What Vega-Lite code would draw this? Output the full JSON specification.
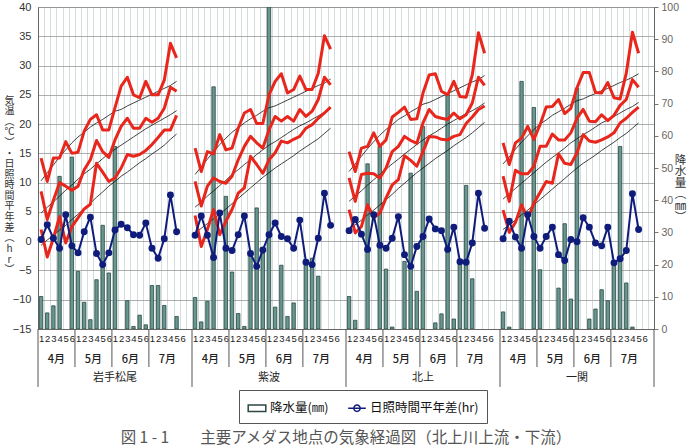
{
"$schema": "https://vega.github.io/schema/vega-lite/v6.json",
"width": 616, "height": 322,
"autosize": {"type": "none"},
"padding": {"left": 38, "top": 7, "right": 36, "bottom": 118},
"background": "white",
"config": {"font": "Noto Sans CJK JP", "view": {"stroke": "#777", "strokeWidth": 1}, "axis": {"labelOverlap": false}},
"title": {"text": "図 1 - 1　　主要アメダス地点の気象経過図（北上川上流・下流）", "orient": "bottom", "anchor": "middle", "frame": "group", "font": "Noto Sans CJK JP", "fontSize": 15.5, "fontWeight": "normal", "color": "#555", "offset": 7},
"datasets": {
"d": [
{"st":"岩手松尾","i":0,"tx":14.2,"tm":8.5,"tn":2,"nx":10.3,"nm":4.8,"nn":-0.7,"s":0.3,"p":10.1},
{"st":"岩手松尾","i":1,"tx":10.2,"tm":3.7,"tn":-2.7,"nx":11.7,"nm":5.8,"nn":0.2,"s":2.8,"p":5.0},
{"st":"岩手松尾","i":2,"tx":14.2,"tm":7,"tn":0.5,"nx":13.0,"nm":6.7,"nn":1.0,"s":0.5,"p":7.2},
{"st":"岩手松尾","i":3,"tx":14.2,"tm":10,"tn":4.2,"nx":14.4,"nm":7.7,"nn":1.9,"s":-1.2,"p":47.4},
{"st":"岩手松尾","i":4,"tx":17,"tm":9.4,"tn":-0.3,"nx":15.6,"nm":8.7,"nn":2.7,"s":4.5},
{"st":"岩手松尾","i":5,"tx":15,"tm":8.7,"tn":2.5,"nx":16.8,"nm":9.6,"nn":3.7,"s":-0.8,"p":53.4},
{"st":"岩手松尾","i":6,"tx":15.2,"tm":9.4,"tn":4,"nx":17.8,"nm":10.6,"nn":4.6,"s":-2.0,"p":17.9},
{"st":"岩手松尾","i":7,"tx":18.8,"tm":12.2,"tn":5.5,"nx":18.6,"nm":11.5,"nn":5.6,"s":1.6,"p":8.3},
{"st":"岩手松尾","i":8,"tx":20.8,"tm":13.9,"tn":6.3,"nx":19.5,"nm":12.3,"nn":6.5,"s":4.1,"p":2.9},
{"st":"岩手松尾","i":9,"tx":21.6,"tm":17.2,"tn":13.3,"nx":20.2,"nm":13.2,"nn":7.5,"s":-2.1,"p":15.3},
{"st":"岩手松尾","i":10,"tx":19,"tm":15.3,"tn":11.8,"nx":20.8,"nm":14.1,"nn":8.4,"s":-4.0,"p":32.2},
{"st":"岩手松尾","i":11,"tx":19,"tm":14.3,"tn":10.2,"nx":21.5,"nm":15.0,"nn":9.4,"s":-2.0,"p":17.4},
{"st":"岩手松尾","i":12,"tx":22.8,"tm":17.3,"tn":10.8,"nx":22.2,"nm":15.7,"nn":10.2,"s":1.9,"p":56.7},
{"st":"岩手松尾","i":13,"tx":26.5,"tm":19.6,"tn":12.5,"nx":22.5,"nm":16.4,"nn":11.1,"s":2.9},
{"st":"岩手松尾","i":14,"tx":28,"tm":21,"tn":14.8,"nx":23.1,"nm":17.1,"nn":11.8,"s":2.3,"p":8.8},
{"st":"岩手松尾","i":15,"tx":25,"tm":19.3,"tn":14.5,"nx":23.6,"nm":17.8,"nn":12.6,"s":1.1,"p":0.8},
{"st":"岩手松尾","i":16,"tx":24.5,"tm":19.3,"tn":14.8,"nx":24.1,"nm":18.5,"nn":13.4,"s":1.0,"p":4.3},
{"st":"岩手松尾","i":17,"tx":27.3,"tm":21,"tn":15.5,"nx":24.6,"nm":19.2,"nn":14.1,"s":3.1,"p":1.3},
{"st":"岩手松尾","i":18,"tx":25,"tm":20.3,"tn":16.5,"nx":25.1,"nm":19.8,"nn":14.9,"s":-1.2,"p":13.5},
{"st":"岩手松尾","i":19,"tx":25,"tm":21,"tn":17.7,"nx":25.6,"nm":20.4,"nn":15.6,"s":-2.9,"p":13.5},
{"st":"岩手松尾","i":20,"tx":27.5,"tm":22.7,"tn":19,"nx":26.1,"nm":21.0,"nn":16.4,"s":0.4,"p":7.3},
{"st":"岩手松尾","i":21,"tx":33.8,"tm":26.3,"tn":19,"nx":26.6,"nm":21.6,"nn":17.4,"s":7.9},
{"st":"岩手松尾","i":22,"tx":31.3,"tm":25.6,"tn":21.5,"nx":27.3,"nm":22.3,"nn":18.3,"s":1.6,"p":3.9},
{"st":"紫波","i":25,"tx":15.9,"tm":10.2,"tn":4.4,"nx":11.4,"nm":5.8,"nn":1.4,"s":1,"p":9.8},
{"st":"紫波","i":26,"tx":11.9,"tm":6,"tn":-0.9,"nx":12.7,"nm":6.7,"nn":2.2,"s":4.3,"p":2.2},
{"st":"紫波","i":27,"tx":15.3,"tm":9.4,"tn":2,"nx":14.0,"nm":7.7,"nn":3.0,"s":1,"p":8.6},
{"st":"紫波","i":28,"tx":14.9,"tm":10.8,"tn":5.4,"nx":15.3,"nm":8.6,"nn":3.8,"s":-2.8,"p":75.2},
{"st":"紫波","i":29,"tx":18.2,"tm":10.2,"tn":1.1,"nx":16.5,"nm":9.5,"nn":4.6,"s":4.8},
{"st":"紫波","i":30,"tx":15.6,"tm":9.9,"tn":3.4,"nx":17.6,"nm":10.4,"nn":5.5,"s":-1.2,"p":41.2},
{"st":"紫波","i":31,"tx":15.9,"tm":11.1,"tn":5.4,"nx":18.6,"nm":11.4,"nn":6.4,"s":-1.6,"p":17.7},
{"st":"紫波","i":32,"tx":19.3,"tm":13.9,"tn":8.2,"nx":19.4,"nm":12.2,"nn":7.3,"s":1.1,"p":4.8},
{"st":"紫波","i":33,"tx":21.9,"tm":16.2,"tn":9.1,"nx":20.2,"nm":13.1,"nn":8.2,"s":4.3,"p":0.8},
{"st":"紫波","i":34,"tx":22.5,"tm":17.9,"tn":14.5,"nx":20.9,"nm":13.9,"nn":9.1,"s":-2.1,"p":23.6},
{"st":"紫波","i":35,"tx":20.1,"tm":16.8,"tn":13.1,"nx":21.5,"nm":14.8,"nn":10.0,"s":-4.3,"p":37.6},
{"st":"紫波","i":36,"tx":20.1,"tm":15.9,"tn":11.6,"nx":22.2,"nm":15.6,"nn":10.9,"s":-1.5,"p":23.6},
{"st":"紫波","i":37,"tx":25,"tm":19,"tn":13.9,"nx":22.8,"nm":16.4,"nn":11.7,"s":1.1,"p":100},
{"st":"紫波","i":38,"tx":27.3,"tm":21.3,"tn":15.1,"nx":23.1,"nm":17.0,"nn":12.5,"s":3.1,"p":6.8},
{"st":"紫波","i":39,"tx":28.6,"tm":20.5,"tn":17.1,"nx":23.6,"nm":17.7,"nn":13.2,"s":0.8,"p":19.8},
{"st":"紫波","i":40,"tx":25.3,"tm":21.3,"tn":16.8,"nx":24.1,"nm":18.4,"nn":13.9,"s":0.4,"p":3.9},
{"st":"紫波","i":41,"tx":25.9,"tm":20.5,"tn":17.4,"nx":24.6,"nm":19.1,"nn":14.6,"s":-1.2,"p":8.1},
{"st":"紫波","i":42,"tx":28.2,"tm":22.5,"tn":17.9,"nx":25.1,"nm":19.7,"nn":15.4,"s":3.6},
{"st":"紫波","i":43,"tx":25.9,"tm":21.3,"tn":19.3,"nx":25.6,"nm":20.2,"nn":16.1,"s":-3.6,"p":21.5},
{"st":"紫波","i":44,"tx":25.9,"tm":22.2,"tn":19.9,"nx":26.1,"nm":20.8,"nn":16.8,"s":-4,"p":22},
{"st":"紫波","i":45,"tx":28.7,"tm":24.2,"tn":21,"nx":26.6,"nm":21.4,"nn":17.5,"s":0.5,"p":16.4},
{"st":"紫波","i":46,"tx":35.1,"tm":28,"tn":21.9,"nx":27.0,"nm":22.0,"nn":18.4,"s":8.2},
{"st":"紫波","i":47,"tx":32.8,"tm":26.7,"tn":22.9,"nx":27.7,"nm":22.7,"nn":19.3,"s":2.7},
{"st":"北上","i":50,"tx":15.3,"tm":10.8,"tn":5.4,"nx":11.9,"nm":6.8,"nn":2.0,"s":1.8,"p":10.1},
{"st":"北上","i":51,"tx":11.9,"tm":6.8,"tn":1.4,"nx":13.2,"nm":7.7,"nn":2.8,"s":3.7,"p":2.7},
{"st":"北上","i":52,"tx":15.9,"tm":11.4,"tn":2.5,"nx":14.5,"nm":8.6,"nn":3.6,"s":1.2},
{"st":"北上","i":53,"tx":16.2,"tm":11.6,"tn":6.2,"nx":15.8,"nm":9.6,"nn":4.5,"s":-1.4,"p":51.3},
{"st":"北上","i":54,"tx":18.5,"tm":11.5,"tn":4,"nx":17.0,"nm":10.5,"nn":5.3,"s":4.5},
{"st":"北上","i":55,"tx":16.2,"tm":10.8,"tn":4.8,"nx":18.1,"nm":11.4,"nn":6.2,"s":-0.7,"p":56.7},
{"st":"北上","i":56,"tx":17.3,"tm":12.5,"tn":7.4,"nx":19.1,"nm":12.3,"nn":7.1,"s":-1.2,"p":18.6},
{"st":"北上","i":57,"tx":21.2,"tm":15.3,"tn":9.6,"nx":19.9,"nm":13.2,"nn":8.0,"s":0.5,"p":0.6},
{"st":"北上","i":58,"tx":22,"tm":16.2,"tn":10.5,"nx":20.8,"nm":14.0,"nn":9.0,"s":4.2},
{"st":"北上","i":59,"tx":22.9,"tm":17.9,"tn":14.6,"nx":21.4,"nm":14.9,"nn":9.9,"s":-2.3,"p":21},
{"st":"北上","i":60,"tx":20.8,"tm":17.2,"tn":13.8,"nx":22.1,"nm":15.7,"nn":10.8,"s":-4.3,"p":48.4},
{"st":"北上","i":61,"tx":20.9,"tm":16.7,"tn":12.8,"nx":22.7,"nm":16.5,"nn":11.7,"s":-0.9,"p":11.7},
{"st":"北上","i":62,"tx":25.3,"tm":20.2,"tn":15.3,"nx":23.4,"nm":17.3,"nn":12.5,"s":0.8,"p":62.9},
{"st":"北上","i":63,"tx":28.4,"tm":22.5,"tn":17.9,"nx":23.7,"nm":18.0,"nn":13.3,"s":3.8},
{"st":"北上","i":64,"tx":28.6,"tm":21.3,"tn":17.8,"nx":24.2,"nm":18.6,"nn":14.1,"s":2.1,"p":1.9},
{"st":"北上","i":65,"tx":25.6,"tm":21,"tn":17.4,"nx":24.7,"nm":19.3,"nn":14.8,"s":1.8,"p":4.7},
{"st":"北上","i":66,"tx":25,"tm":20.8,"tn":17.3,"nx":25.2,"nm":20.0,"nn":15.5,"s":-1.4,"p":72.8},
{"st":"北上","i":67,"tx":27.3,"tm":21.9,"tn":17.9,"nx":25.7,"nm":20.6,"nn":16.3,"s":2.4,"p":3.1},
{"st":"北上","i":68,"tx":24.7,"tm":20.9,"tn":18.2,"nx":26.2,"nm":21.2,"nn":17.0,"s":-3.5,"p":21},
{"st":"北上","i":69,"tx":24.6,"tm":21.6,"tn":20.1,"nx":26.7,"nm":21.8,"nn":17.7,"s":-3.6,"p":44.6},
{"st":"北上","i":70,"tx":28.4,"tm":23.6,"tn":21.2,"nx":27.2,"nm":22.3,"nn":18.5,"s":-0.3,"p":15.6},
{"st":"北上","i":71,"tx":35.6,"tm":28,"tn":22.5,"nx":27.6,"nm":22.9,"nn":19.4,"s":8.2},
{"st":"北上","i":72,"tx":32.1,"tm":26.6,"tn":23.1,"nx":28.3,"nm":23.6,"nn":20.3,"s":2.2},
{"st":"一関","i":75,"tx":16.8,"tm":11.1,"tn":5.3,"nx":13.2,"nm":7.2,"nn":2.0,"s":0.4,"p":5.3},
{"st":"一関","i":76,"tx":13.1,"tm":6.8,"tn":1.5,"nx":14.4,"nm":8.1,"nn":2.8,"s":3.4,"p":0.6},
{"st":"一関","i":77,"tx":16.8,"tm":12.1,"tn":3.2,"nx":15.7,"nm":9.0,"nn":3.6,"s":0.7},
{"st":"一関","i":78,"tx":17.6,"tm":11.5,"tn":6.2,"nx":16.9,"nm":9.9,"nn":4.5,"s":-1.2,"p":76.9},
{"st":"一関","i":79,"tx":19.6,"tm":11.5,"tn":3.8,"nx":18.0,"nm":10.8,"nn":5.3,"s":4.5},
{"st":"一関","i":80,"tx":17.4,"tm":12.8,"tn":6.5,"nx":19.1,"nm":11.7,"nn":6.2,"s":0.8,"p":68.8},
{"st":"一関","i":81,"tx":19.9,"tm":16.2,"tn":8.3,"nx":20.0,"nm":12.6,"nn":7.1,"s":-1.2,"p":18.4},
{"st":"一関","i":82,"tx":22.9,"tm":16.2,"tn":10.2,"nx":20.7,"nm":13.5,"nn":8.0,"s":0.8},
{"st":"一関","i":83,"tx":23,"tm":18.3,"tn":9.9,"nx":21.5,"nm":14.3,"nn":8.9,"s":2.4},
{"st":"一関","i":84,"tx":24.2,"tm":17.3,"tn":14.9,"nx":22.1,"nm":15.1,"nn":9.8,"s":-2.3,"p":12.7},
{"st":"一関","i":85,"tx":21.8,"tm":17.3,"tn":13.3,"nx":22.7,"nm":15.9,"nn":10.7,"s":-3.3,"p":32.7},
{"st":"一関","i":86,"tx":22.7,"tm":18.5,"tn":13.1,"nx":23.4,"nm":16.8,"nn":11.6,"s":0.3,"p":9.3},
{"st":"一関","i":87,"tx":26.2,"tm":21,"tn":15.1,"nx":24.0,"nm":17.5,"nn":12.5,"s":-0.1,"p":74.8},
{"st":"一関","i":88,"tx":28.8,"tm":22.5,"tn":18.2,"nx":24.3,"nm":18.2,"nn":13.3,"s":4},
{"st":"一関","i":89,"tx":28.8,"tm":20.5,"tn":17.1,"nx":24.8,"nm":18.8,"nn":14.0,"s":2.4,"p":3.1},
{"st":"一関","i":90,"tx":25.4,"tm":20.4,"tn":16.9,"nx":25.2,"nm":19.5,"nn":14.7,"s":-0.3,"p":6.2},
{"st":"一関","i":91,"tx":25.3,"tm":21.6,"tn":17.3,"nx":25.7,"nm":20.2,"nn":15.5,"s":-0.8,"p":12.2},
{"st":"一関","i":92,"tx":27.1,"tm":20.6,"tn":17.8,"nx":26.1,"nm":20.7,"nn":16.2,"s":2.4,"p":8.8},
{"st":"一関","i":93,"tx":24.5,"tm":21.5,"tn":18.5,"nx":26.6,"nm":21.3,"nn":16.9,"s":-3.7,"p":20},
{"st":"一関","i":94,"tx":24.3,"tm":23.2,"tn":20.2,"nx":27.1,"nm":21.9,"nn":17.7,"s":-3,"p":56.7},
{"st":"一関","i":95,"tx":28.7,"tm":24.2,"tn":21,"nx":27.5,"nm":22.5,"nn":18.4,"s":-1.6,"p":14.3},
{"st":"一関","i":96,"tx":35.7,"tm":27.6,"tn":22,"nx":28.0,"nm":23.0,"nn":19.3,"s":8.1,"p":0.6},
{"st":"一関","i":97,"tx":32.1,"tm":26.3,"tn":22.9,"nx":28.6,"nm":23.7,"nn":20.2,"s":2}
],
"mon": [
{"i":3,"t":"4月"},{"i":9,"t":"5月"},{"i":15,"t":"6月"},{"i":21,"t":"7月"},
{"i":28,"t":"4月"},{"i":34,"t":"5月"},{"i":40,"t":"6月"},{"i":46,"t":"7月"},
{"i":53,"t":"4月"},{"i":59,"t":"5月"},{"i":65,"t":"6月"},{"i":71,"t":"7月"},
{"i":78,"t":"4月"},{"i":84,"t":"5月"},{"i":90,"t":"6月"},{"i":96,"t":"7月"}
],
"sta": [{"i":12,"t":"岩手松尾"},{"i":37,"t":"紫波"},{"i":62,"t":"北上"},{"i":87,"t":"一関"}],
"msep": [{"i":6},{"i":12},{"i":18},{"i":31},{"i":37},{"i":43},{"i":56},{"i":62},{"i":68},{"i":81},{"i":87},{"i":93}],
"ssep": [{"i":0},{"i":25},{"i":50},{"i":75}],
"send": [{"i":99}],
"lg": [{"lg":"降水量(㎜)"},{"lg":"日照時間平年差(hr)"}]
},
"layer": [
{
"data": {"name": "d"},
"mark": {"type": "bar", "width": {"band": 0.55}, "fill": "#67978f", "stroke": "#2b4844", "strokeWidth": 0.8, "clip": true},
"encoding": {
"x": {"field": "i", "type": "ordinal",
"scale": {"domain": [0,1,2,3,4,5,6,7,8,9,10,11,12,13,14,15,16,17,18,19,20,21,22,23,24,25,26,27,28,29,30,31,32,33,34,35,36,37,38,39,40,41,42,43,44,45,46,47,48,49,50,51,52,53,54,55,56,57,58,59,60,61,62,63,64,65,66,67,68,69,70,71,72,73,74,75,76,77,78,79,80,81,82,83,84,85,86,87,88,89,90,91,92,93,94,95,96,97,98,99], "paddingInner": 0, "paddingOuter": 0},
"axis": {"title": null, "grid": true, "tickBand": "extent", "gridColor": "#c6d6d6", "gridWidth": 0.8, "ticks": false, "domainColor": "#666", "labelExpr": "isValid(datum.value) && isNumber(datum.value) && datum.value % 25 != 24 ? '' + ((datum.value % 25) % 6 + 1) : ''", "labelAngle": 0, "labelFontSize": 9.5, "labelFont": "Liberation Sans", "labelColor": "#222", "labelPadding": 4, "labelOverlap": false, "labelFlush": false}},
"y": {"field": "p", "type": "quantitative", "scale": {"domain": [0, 100], "nice": false, "zero": true},
"axis": {"orient": "right", "values": [0,10,20,30,40,50,60,70,80,90,100], "tickCount": 11, "grid": false, "tickSize": 4, "tickColor": "#777", "domainColor": "#666", "labelPadding": 3, "labelOverlap": false, "labelFontSize": 10.5, "labelFont": "Liberation Sans", "labelColor": "#666",
"title": ["降","水","量","︵","㎜","︶"], "titleAngle": 0, "titleAlign": "center", "titleBaseline": "middle", "titleX": 26, "titleY": 153, "titleFontSize": 11.5, "titleLineHeight": 11.5, "titleFontWeight": "normal", "titleColor": "#333", "titleFont": "Noto Sans CJK JP"}}
}
},
{
"layer": [
{
"data": {"name": "d"},
"transform": [{"fold": ["nx", "nm", "nn"], "as": ["k", "v"]}],
"mark": {"type": "line", "color": "#111", "strokeWidth": 0.8},
"encoding": {
"x": {"field": "i", "type": "ordinal"},
"y": {"field": "v", "type": "quantitative", "scale": {"domain": [-15, 40], "nice": false, "zero": false},
"axis": {"orient": "left", "values": [-15,-10,-5,0,5,10,15,20,25,30,35,40], "tickCount": 12, "grid": true, "gridColor": "#9a9a9a", "gridWidth": 0.8, "ticks": false, "domainColor": "#666", "labelPadding": 7, "labelOverlap": false, "labelFontSize": 11, "labelFont": "Liberation Sans", "labelColor": "#333",
"title": ["気","温","︵","℃","︶","・","日","照","時","間","平","年","差","︵","h","r","︶"], "titleAngle": 0, "titleAlign": "center", "titleBaseline": "middle", "titleX": -29, "titleY": 93, "titleFontSize": 10, "titleLineHeight": 10.6, "titleFontWeight": "normal", "titleColor": "#333", "titleFont": "Noto Sans CJK JP"}},
"detail": [{"field": "st"}, {"field": "k"}]
}
},
{
"data": {"name": "d"},
"transform": [{"fold": ["tx", "tm", "tn"], "as": ["k", "v"]}],
"mark": {"type": "line", "color": "#e8261c", "strokeWidth": 3, "strokeJoin": "round"},
"encoding": {
"x": {"field": "i", "type": "ordinal"},
"y": {"field": "v", "type": "quantitative"},
"detail": [{"field": "st"}, {"field": "k"}]
}
},
{
"data": {"name": "d"},
"mark": {"type": "line", "color": "#101c7c", "strokeWidth": 2, "point": {"filled": true, "size": 48, "color": "#101c7c"}},
"encoding": {
"x": {"field": "i", "type": "ordinal"},
"y": {"field": "s", "type": "quantitative"},
"detail": {"field": "st"}
}
},
{
"data": {"name": "mon"},
"mark": {"type": "text", "fontSize": 11, "color": "#222", "baseline": "middle", "align": "center", "fontWeight": 500},
"encoding": {
"x": {"field": "i", "type": "ordinal", "bandPosition": 0},
"y": {"datum": -20.3},
"text": {"field": "t"}
}
},
{
"data": {"name": "sta"},
"mark": {"type": "text", "fontSize": 11, "color": "#222", "baseline": "middle", "align": "center"},
"encoding": {
"x": {"field": "i", "type": "ordinal", "bandPosition": 0.5},
"y": {"datum": -23.4},
"text": {"field": "t"}
}
},
{
"data": {"name": "msep"},
"mark": {"type": "rule", "color": "#555", "strokeWidth": 1},
"encoding": {
"x": {"field": "i", "type": "ordinal", "bandPosition": 0},
"y": {"datum": -15},
"y2": {"datum": -21.5}
}
},
{
"data": {"name": "ssep"},
"mark": {"type": "rule", "color": "#555", "strokeWidth": 1},
"encoding": {
"x": {"field": "i", "type": "ordinal", "bandPosition": 0},
"y": {"datum": -15},
"y2": {"datum": -24.9}
}
},
{
"data": {"name": "send"},
"mark": {"type": "rule", "color": "#555", "strokeWidth": 1},
"encoding": {
"x": {"field": "i", "type": "ordinal", "bandPosition": 1},
"y": {"datum": -15},
"y2": {"datum": -24.9}
}
},
{
"data": {"name": "lg"},
"mark": {"type": "point", "filled": true, "opacity": 0, "strokeWidth": 1.5},
"encoding": {
"color": {"field": "lg", "type": "nominal", "scale": {"domain": ["降水量(㎜)", "日照時間平年差(hr)"], "range": ["#a8d3cc", "#101c7c"]},
"legend": {"title": null, "orient": "none", "legendX": 201, "legendY": 383, "direction": "horizontal", "strokeColor": "#555", "fillColor": "white", "padding": 8, "labelFontSize": 12.5, "labelFont": "Noto Sans CJK JP", "labelColor": "#111", "symbolSize": 310, "columnPadding": 16, "labelOffset": 3, "symbolOpacity": 1, "symbolStrokeWidth": 1.5}},
"shape": {"field": "lg", "type": "nominal", "scale": {"domain": ["降水量(㎜)", "日照時間平年差(hr)"], "range": ["M-1,-0.38H1V0.38H-1Z", "M-1,0H1M0.36,0A0.36,0.36 0 1 1 -0.36,0A0.36,0.36 0 1 1 0.36,0"]}},
"stroke": {"field": "lg", "type": "nominal", "scale": {"domain": ["降水量(㎜)", "日照時間平年差(hr)"], "range": ["#2b4844", "#101c7c"]}}
}
}
]
}
],
"resolve": {"scale": {"y": "independent"}}
}
